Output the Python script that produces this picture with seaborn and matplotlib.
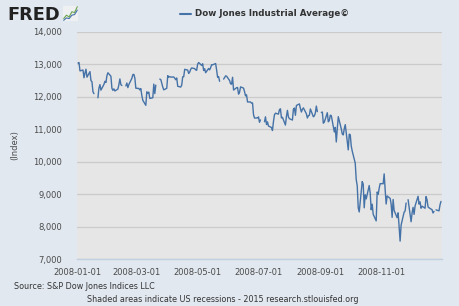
import numpy as np
import pandas as pd
import seaborn as sns
import matplotlib
matplotlib.use("Agg")
import matplotlib.pyplot as plt

# DJIA daily close, 2008, one entry per weekday (None = market holiday)
jan = [None, 13043.96, 13056.72, 12800.18, 12827.49, 12589.07, 12735.31, 12853.09, 12606.30,
       12778.15, 12501.11, 12466.16, 12159.21, 12099.30, None, 11971.19, 12270.17, 12378.61,
       12207.17, 12383.89, 12480.30, 12442.83, 12650.36]
feb = [12743.19, 12635.16, 12265.13, 12200.10, 12247.00, 12182.13, 12240.01, 12373.41, 12552.24,
       12376.98, 12348.21, None, 12337.22, 12427.26, 12284.30, 12381.02, 12570.22, 12684.92,
       12694.28, 12582.18, 12266.39]
mar = [12258.90, 12213.80, 12254.99, 12040.39, 11893.69, 11740.15, 12156.81, 12110.24, 12145.74,
       11951.09, 11972.25, 12392.66, 12099.66, 12361.32, None, 12548.64, 12532.60, 12422.86,
       12302.46, 12216.40, 12262.89]
apr = [12654.36, 12605.83, 12626.03, 12609.42, 12612.43, 12576.44, 12527.26, 12581.98, 12325.42,
       12302.06, 12362.47, 12619.27, 12620.49, 12849.36, 12825.02, 12720.23, 12763.22, 12848.95,
       12891.86, 12871.75, 12831.45, 12820.13]
may = [13010.00, 13058.20, 12969.54, 13020.83, 12814.35, 12866.78, 12745.88, 12876.05, 12832.18,
       12898.38, 12992.66, 12986.80, 13028.16, 12828.68, 12601.19, 12625.62, 12479.63, None,
       12548.35, 12594.03, 12646.22, 12638.32]
jun = [12503.82, 12402.85, 12390.48, 12604.45, 12209.81, 12280.32, 12289.76, 12083.77, 12141.58,
       12307.35, 12269.08, 12160.30, 12029.06, 12063.09, 11842.69, 11842.36, 11807.43, 11811.83,
       11453.42, 11346.51, 11350.01]
jul = [11382.26, 11215.51, 11288.53, None, 11231.96, 11384.21, 11147.44, 11229.02, 11100.54,
       11055.19, 10962.54, 11239.28, 11446.66, 11496.57, 11467.34, 11602.50, 11632.38, 11349.28,
       11370.69, 11131.08, 11397.56, 11583.69, 11378.02]
aug = [11326.32, 11284.15, 11615.77, 11656.07, 11431.43, 11734.32, 11782.35, 11642.47, 11532.96,
       11615.93, 11659.90, 11479.39, 11348.55, 11417.43, 11430.21, 11628.06, 11386.25, 11412.87,
       11502.51, 11715.18, 11543.55]
sep = [None, 11516.92, 11532.88, 11188.23, 11220.96, 11510.74, 11230.73, 11268.92, 11433.71,
       11421.99, 10917.51, 11059.02, 10609.66, 11019.69, 11388.44, 11015.69, 10854.17, 10825.17,
       11022.06, 11143.13, 10365.45, 10850.66]
oct_ = [10831.07, 10482.85, 10325.38, 9955.50, 9447.11, 9258.10, 8579.19, 8451.19, 9387.61,
        9310.99, 8577.91, 8979.26, 8852.22, 9265.43, 9033.66, 8519.21, 8691.25, 8378.95,
        8175.77, 9065.12, 8990.96, 9180.69, 9325.01]
nov = [9319.83, 9625.28, 9139.27, 8695.79, 8943.81, 8870.54, 8693.96, 8282.66, 8835.25,
       8497.31, 8273.58, 8424.75, 7997.28, 7552.29, 8046.42, 8443.39, 8479.47, 8726.61, None,
       8829.04]
dec = [8149.09, 8419.09, 8591.69, 8376.24, 8635.42, 8934.18, 8691.33, 8761.42, 8565.09,
       8629.68, 8564.53, 8924.14, 8824.34, 8604.99, 8579.11, 8519.69, 8419.49, 8468.48, None,
       8515.55, 8483.93, 8668.39, 8776.39]

tick_dates = ["2008-01-01", "2008-03-01", "2008-05-01", "2008-07-01", "2008-09-01", "2008-11-01"]
y_ticks = [7000, 8000, 9000, 10000, 11000, 12000, 13000, 14000]

values = jan + feb + mar + apr + may + jun + jul + aug + sep + oct_ + nov + dec
dates = pd.bdate_range("2008-01-01", "2008-12-31")
df = pd.DataFrame({"date": dates, "value": pd.array(values, dtype="Float64").astype(float)})
# split at holidays so the line breaks like FRED's does
df["seg"] = df["value"].isna().cumsum()
df = df.dropna()

W, H = 460, 306
LINE = "#4572A7"
sns.set_style("white", {"axes.facecolor": "#E6E6E6", "figure.facecolor": "#E1E8F0"})
plt.rcParams["font.family"] = ["DejaVu Sans"]

fig = plt.figure(figsize=(W / 100, H / 100), dpi=100)
fig.patch.set_facecolor("#E1E8F0")
ax = fig.add_axes([77 / W, 1 - 259 / H, 365 / W, (259 - 32) / H])

sns.lineplot(data=df, x="date", y="value", units="seg", estimator=None,
             color=LINE, linewidth=1.0, ax=ax)

ax.set_xlim(pd.Timestamp("2008-01-01"), pd.Timestamp("2009-01-01"))
ax.set_ylim(7000, 14000)
ax.set_yticks(y_ticks)
ax.set_yticklabels([f"{v:,}" for v in y_ticks])
ax.set_xticks(pd.to_datetime(tick_dates))
ax.set_xticklabels(tick_dates)
ax.grid(axis="y", color="#CBCBCB", linewidth=0.9)
ax.grid(axis="x", visible=False)
for s in ["left", "right", "top"]:
    ax.spines[s].set_visible(False)
ax.spines["bottom"].set_color("#C0D0E0")
ax.spines["bottom"].set_linewidth(1.0)
ax.tick_params(axis="x", colors="#C0D0E0", length=4.5, width=1, pad=2, labelcolor="#4a4a4a", labelsize=6)
ax.tick_params(axis="y", length=0, pad=11, labelcolor="#4a4a4a", labelsize=6)
ax.set_xlabel("")
ax.set_ylabel("(Index)", fontsize=6, color="#4a4a4a", labelpad=10)

# header
fig.text(7 / W, 1 - 14.5 / H, "FRED", fontsize=12.8, fontweight="bold", color="#222222",
         va="center", ha="left")
icon = fig.add_axes([63 / W, 1 - 21 / H, 15 / W, 15 / H])
icon.set_facecolor("#EEF0F2")
icon.plot([0, 1, 2, 3, 4, 5], [1, 2, 1.5, 3, 2.8, 4.5], color="#6BA34B", lw=0.8)
icon.plot([0, 1, 2, 3, 4, 5], [0.5, 1.2, 1.0, 2.0, 2.2, 3.5], color="#4572A7", lw=0.8)
icon.set_xticks([])
icon.set_yticks([])
for s in icon.spines.values():
    s.set_visible(False)

fig.add_artist(plt.Line2D([180 / W, 191 / W], [1 - 14 / H, 1 - 14 / H], color=LINE, lw=1.5))
fig.text(195 / W, 1 - 14 / H, "Dow Jones Industrial Average©", fontsize=6.3, fontweight="bold",
         color="#333333", va="center", ha="left")

fig.text(14 / W, 1 - 286.5 / H, "Source: S&P Dow Jones Indices LLC", fontsize=5.8,
         color="#333333", va="center", ha="left")
fig.text(223 / W, 1 - 299.5 / H,
         "Shaded areas indicate US recessions - 2015 research.stlouisfed.org", fontsize=5.8,
         color="#333333", va="center", ha="center")

fig.savefig("out.png", dpi=100, facecolor=fig.get_facecolor())
